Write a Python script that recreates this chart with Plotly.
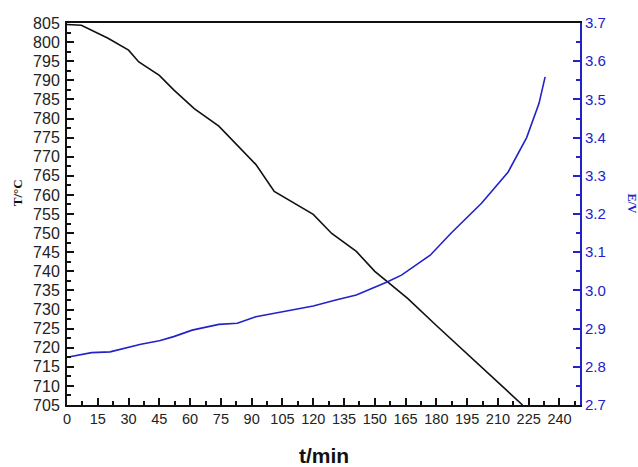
import plotly.graph_objects as go

# Temperature curve (left axis)
t_T = [0, 7, 20, 30, 35, 45, 52, 62, 74, 82, 92, 101, 110, 120, 129, 141, 150, 157, 166, 180, 195, 210, 222]
T_vals = [804.6, 804.4, 801.0, 797.9, 794.8, 791.3, 787.5, 782.6, 778.0, 773.5, 768.0, 760.9, 758.0,
          754.9, 749.9, 745.2, 740.0, 737.0, 732.9, 725.8, 718.3, 710.8, 705.0]

# Voltage curve (right axis)
t_E = [0, 12, 21, 36, 45, 52, 61, 74, 83, 92, 107, 120, 131, 141, 156, 163, 177, 187, 202, 215, 224, 230, 233]
E_vals = [2.825, 2.837, 2.839, 2.859, 2.868, 2.879, 2.896, 2.911, 2.914, 2.931, 2.946, 2.959, 2.975,
          2.988, 3.022, 3.040, 3.092, 3.149, 3.228, 3.310, 3.400, 3.489, 3.559]

BLUE = "#2222c8"
FAM = "Liberation Sans, Arial, sans-serif"

fig = go.Figure()
fig.add_trace(go.Scatter(x=t_T, y=T_vals, mode="lines", line=dict(color="#111111", width=1.6),
                         yaxis="y", showlegend=False))
fig.add_trace(go.Scatter(x=t_E, y=E_vals, mode="lines", line=dict(color=BLUE, width=1.6),
                         yaxis="y2", showlegend=False))

fig.update_layout(
    width=638, height=467,
    margin=dict(l=67, r=58, t=23, b=62),
    paper_bgcolor="white", plot_bgcolor="white",
    xaxis=dict(range=[0, 250], tick0=0, dtick=15, ticks="inside", ticklen=7, tickwidth=2,
               tickcolor="#111", showline=True, linecolor="#111", linewidth=2, mirror=True,
               showgrid=False, zeroline=False, tickfont=dict(color="#222", family=FAM, size=14.5),
               minor=dict(ticks="inside", ticklen=4, tickwidth=2, dtick=7.5, tick0=0, tickcolor="#111")),
    yaxis=dict(range=[705, 805], tick0=705, dtick=5, ticks="inside", ticklen=7, tickwidth=2,
               tickcolor="#111", showline=True, linecolor="#111", linewidth=2, ticklabelstandoff=2,
               showgrid=False, zeroline=False, tickfont=dict(color="#222", family=FAM, size=16),
               minor=dict(ticks="inside", ticklen=4, tickwidth=2, dtick=2.5, tick0=705, tickcolor="#111")),
    yaxis2=dict(range=[2.7, 3.7], tick0=2.7, dtick=0.1, tickformat=".1f", overlaying="y", side="right",
                ticks="inside", ticklen=7, tickwidth=2, tickcolor=BLUE, showline=True, linecolor=BLUE,
                linewidth=2, showgrid=False, zeroline=False, tickfont=dict(color=BLUE, family=FAM, size=15),
                minor=dict(ticks="inside", ticklen=4, tickwidth=2, dtick=0.05, tick0=2.7, tickcolor=BLUE)),
    annotations=[
        dict(text="<b>t/min</b>", xref="paper", yref="paper", x=0.5, y=-0.131, xanchor="center",
             yanchor="middle", showarrow=False,
             font=dict(family=FAM, size=21, color="#111")),
        dict(text="<b>T/°C</b>", xref="paper", yref="paper", x=-0.095, y=0.555, xanchor="center",
             yanchor="middle", showarrow=False, textangle=-90,
             font=dict(family="Liberation Serif, Times New Roman, serif", size=13, color="#111")),
        dict(text="<b>E/V</b>", xref="paper", yref="paper", x=1.101, y=0.528, xanchor="center",
             yanchor="middle", showarrow=False, textangle=90,
             font=dict(family="Liberation Serif, Times New Roman, serif", size=12, color=BLUE)),
    ],
)

fig.write_html("out.html")
